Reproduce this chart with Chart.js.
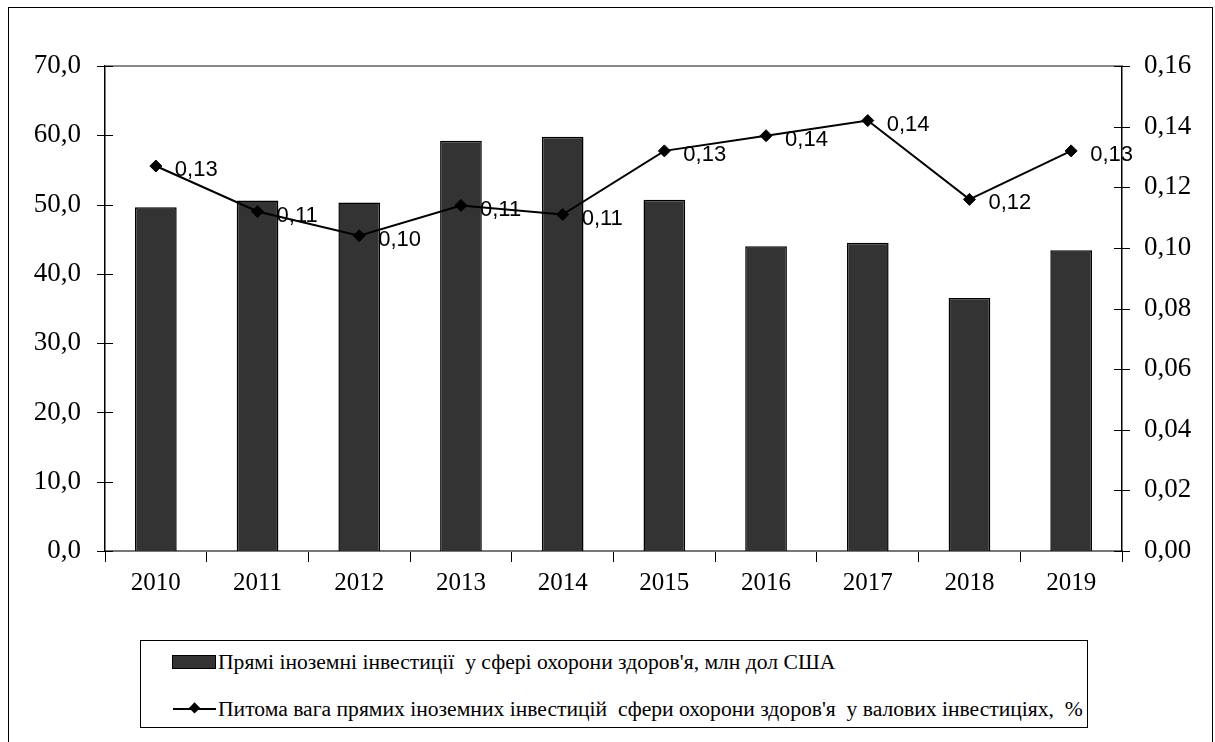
<!DOCTYPE html>
<html>
<head>
<meta charset="utf-8">
<script src="https://cdn.jsdelivr.net/npm/chart.js@4.4.0/dist/chart.umd.min.js"></script>
<style>
  body { margin: 0; background: #fff; }
  #frame { position: absolute; left: 8px; top: 7px; width: 1203px; height: 760px; border: 1px solid #000; border-bottom: none; }
  #chart { position: absolute; left: 0; top: 0; }
  #legend { position: absolute; left: 140px; top: 640px; width: 946px; height: 86px; border: 1px solid #000;
    font-family: "Liberation Serif", "Times New Roman", serif; font-size: 21.6px; color: #000; }
  .row { position: absolute; left: 31px; height: 22px; display: flex; align-items: center; white-space: pre; }
  .swatch { width: 42px; height: 12px; background: #333; border: 1px solid #000; margin-right: 2px; }
</style>
</head>
<body>
<div id="frame"></div>
<canvas id="chart" width="1215" height="620"></canvas>
<div id="legend">
  <div class="row" style="top:10px"><div class="swatch"></div><span id="lab1"></span></div>
  <div class="row" style="top:57px"><svg width="45" height="16" style="margin-right:1px"><line x1="1" y1="8" x2="44" y2="8" stroke="#000" stroke-width="2"/><rect x="17.5" y="2.5" width="8" height="8" fill="#000" transform="rotate(45 21.5 8)"/></svg><span id="lab2"></span></div>
</div>
<script>
const years = ["2010", "2011", "2012", "2013", "2014", "2015", "2016", "2017", "2018", "2019"];
const investments = [49.6, 50.6, 50.3, 59.2, 59.8, 50.7, 44.0, 44.5, 36.5, 43.4];
const shares = [0.127, 0.112, 0.104, 0.114, 0.111, 0.132, 0.137, 0.142, 0.116, 0.132];
const seriesNames = [
  "Прямі іноземні інвестиції  у сфері охорони здоров'я, млн дол США",
  "Питома вага прямих іноземних інвестицій  сфери охорони здоров'я  у валових інвестиціях,  %"
];

document.getElementById("lab1").textContent = seriesNames[0];
document.getElementById("lab2").textContent = seriesNames[1];

const comma = (v, d) => v.toFixed(d).replace(".", ",");

// cross ticks on both value axes, grey top border
const axisDecor = {
  id: "axisDecor",
  afterDraw(chart) {
    const ctx = chart.ctx;
    const area = chart.chartArea;
    ctx.save();
    ctx.strokeStyle = "#888";
    ctx.lineWidth = 2;
    ctx.beginPath();
    ctx.moveTo(area.left, area.top);
    ctx.lineTo(area.right, area.top);
    ctx.stroke();
    ctx.strokeStyle = "#000";
    ctx.lineWidth = 1;
    ["y", "y1"].forEach((id) => {
      const s = chart.scales[id];
      const x = id === "y" ? area.left : area.right;
      s.ticks.forEach((t) => {
        const py = Math.round(s.getPixelForValue(t.value)) + 0.5;
        ctx.beginPath();
        ctx.moveTo(x - 8, py);
        ctx.lineTo(x + 8, py);
        ctx.stroke();
      });
    });
    ctx.restore();
  },
};

// value labels beside the line points
const pointLabels = {
  id: "pointLabels",
  afterDatasetsDraw(chart) {
    const ctx = chart.ctx;
    const meta = chart.getDatasetMeta(1);
    ctx.save();
    ctx.font = '22px "Liberation Sans"';
    ctx.fillStyle = "#000";
    ctx.textAlign = "left";
    ctx.textBaseline = "middle";
    meta.data.forEach((pt, i) => {
      ctx.fillText(comma(shares[i], 2), pt.x + 19, pt.y + 4);
    });
    ctx.restore();
  },
};

const ctx = document.getElementById("chart").getContext("2d");
const chart = new Chart(ctx, {
  type: "bar",
  data: {
    labels: years,
    datasets: [
      {
        label: seriesNames[0],
        data: investments,
        backgroundColor: "#333333",
        borderColor: "#000",
        borderWidth: 1.5,
        barPercentage: 0.41,
        categoryPercentage: 1,
        yAxisID: "y",
        order: 1,
      },
      {
        type: "line",
        label: seriesNames[1],
        data: shares,
        borderColor: "#000",
        backgroundColor: "#000",
        borderWidth: 2,
        pointStyle: "rectRot",
        pointRadius: 6,
        pointBorderWidth: 1,
        fill: false,
        tension: 0,
        yAxisID: "y1",
        order: 0,
      },
    ],
  },
  options: {
    responsive: false,
    animation: false,
    layout: { padding: { top: 66, left: 0, right: 0, bottom: 0 } },
    scales: {
      x: {
        grid: { display: true, drawOnChartArea: false, color: "#000", tickLength: 11, offset: true },
        border: { color: "#777", width: 2 },
        ticks: { color: "#000", font: { family: "Liberation Serif", size: 25 }, padding: 6 },
        afterFit: (s) => { s.height = 69; },
      },
      y: {
        position: "left",
        min: 0,
        max: 70,
        ticks: {
          stepSize: 10,
          color: "#000",
          padding: 16,
          font: { family: "Liberation Serif", size: 27 },
          callback: (v) => comma(v, 1),
        },
        grid: { display: false },
        border: { color: "#000", width: 1.5 },
        afterFit: (s) => { s.width = 105; },
      },
      y1: {
        position: "right",
        min: 0,
        max: 0.16,
        ticks: {
          stepSize: 0.02,
          color: "#000",
          padding: 14,
          font: { family: "Liberation Serif", size: 27 },
          callback: (v) => comma(v, 2),
        },
        grid: { display: false },
        border: { color: "#000", width: 1.5 },
        afterFit: (s) => { s.width = 93; },
      },
    },
    plugins: {
      legend: { display: false },
      tooltip: { enabled: false },
    },
  },
  plugins: [axisDecor, pointLabels],
});
</script>
</body>
</html>
